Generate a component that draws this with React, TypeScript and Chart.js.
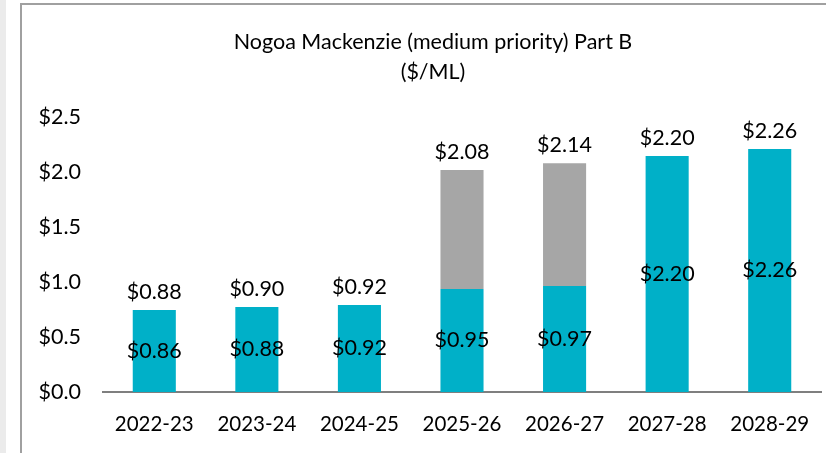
import React, { useEffect, useRef } from "react";
import { Chart, registerables } from "chart.js";

Chart.register(...registerables);

const categories = ["2022-23", "2023-24", "2024-25", "2025-26", "2026-27", "2027-28", "2028-29"];
const tealValues = [0.745, 0.773, 0.79, 0.936, 0.964, 2.145, 2.21];
const greyValues = [0, 0, 0, 1.082, 1.116, 0, 0];
const innerLabels = ["$0.86", "$0.88", "$0.92", "$0.95", "$0.97", "$2.20", "$2.26"];
const totalLabels = ["$0.88", "$0.90", "$0.92", "$2.08", "$2.14", "$2.20", "$2.26"];
const yTicks = [0, 0.5, 1.0, 1.5, 2.0, 2.5];
const titleLines = ["Nogoa Mackenzie (medium priority) Part B", "($/ML)"];

const FONT = "Lato, 'Open Sans', sans-serif";

const labelPlugin = {
  id: "barLabels",
  afterDatasetsDraw(chart: any) {
    const ctx = chart.ctx;
    const x = chart.scales.x;
    const y = chart.scales.y;
    ctx.save();
    ctx.fillStyle = "#000";
    ctx.textAlign = "center";
    ctx.textBaseline = "middle";
    ctx.font = `21.5px ${FONT}`;
    const titleCenter = chart.width / 2;
    titleLines.forEach((line, k) => {
      ctx.fillText(line, titleCenter, 37 + k * 30);
    });
    categories.forEach((_, i) => {
      const cx = x.getPixelForValue(i);
      const tealTop = y.getPixelForValue(tealValues[i]);
      const base = y.getPixelForValue(0);
      ctx.fillText(innerLabels[i], cx, (tealTop + base) / 2);
      const top = y.getPixelForValue(tealValues[i] + greyValues[i]);
      ctx.fillText(totalLabels[i], cx, top - 18);
    });
    ctx.restore();
  },
};

export default function App() {
  const ref = useRef<HTMLCanvasElement>(null);
  useEffect(() => {
    if (!ref.current) return;
    const chart = new Chart(ref.current, {
      type: "bar",
      data: {
        labels: categories,
        datasets: [
          {
            label: "Base",
            data: tealValues,
            backgroundColor: "#00B0C8",
            barPercentage: 0.42,
            categoryPercentage: 1,
            stack: "s",
          },
          {
            label: "Extra",
            data: greyValues,
            backgroundColor: "#A6A6A6",
            barPercentage: 0.42,
            categoryPercentage: 1,
            stack: "s",
          },
        ],
      },
      options: {
        responsive: false,
        animation: false,
        devicePixelRatio: 1,
        layout: { padding: { left: 0, right: 23, top: 112, bottom: 18 } },
        plugins: {
          legend: { display: false },
          tooltip: { enabled: false },
          title: { display: false },
        },
        scales: {
          x: {
            stacked: true,
            afterFit: (s: any) => {
              s.height = 43;
            },
            grid: { display: false, drawTicks: false },
            border: { display: true, color: "#7F7F7F", width: 2 },
            ticks: { color: "#000", font: { family: FONT, size: 20.5 }, padding: 20, maxRotation: 0, autoSkip: false },
          },
          y: {
            stacked: true,
            min: 0,
            max: 2.5,
            afterFit: (s: any) => {
              s.width = 81;
            },
            afterBuildTicks: (s: any) => {
              s.ticks = yTicks.map((v) => ({ value: v }));
            },
            grid: { display: false, drawTicks: false },
            border: { display: false },
            ticks: {
              color: "#000",
              font: { family: FONT, size: 21.5 },
              padding: 22,
              callback: (v: any) => "$" + Number(v).toFixed(1),
            },
          },
        },
      },
      plugins: [labelPlugin],
    });
    return () => chart.destroy();
  }, []);

  return (
    <div style={{ position: "fixed", left: 0, top: 0, width: 826, height: 453, overflow: "hidden", background: "#fff" }}>
      <div style={{ position: "absolute", left: 0, top: 0, width: 6, height: 453, background: "#EBEBEB" }} />
      <div
        style={{
          position: "absolute",
          left: 20,
          top: 3,
          width: 840,
          height: 470,
          borderLeft: "2px solid #A0A0A0",
          borderTop: "2px solid #A0A0A0",
          boxSizing: "border-box",
        }}
      />
      <canvas ref={ref} width={822} height={448} style={{ position: "absolute", left: 22, top: 5 }} />
    </div>
  );
}
